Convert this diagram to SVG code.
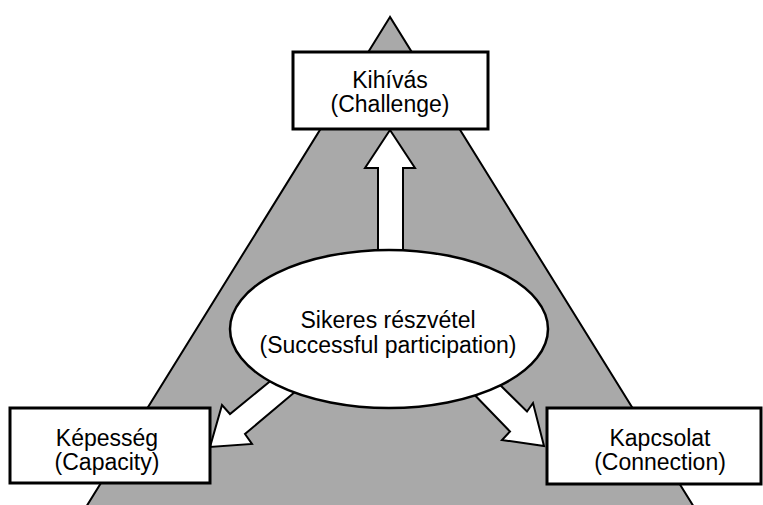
<svg xmlns="http://www.w3.org/2000/svg" width="763" height="505" viewBox="0 0 763 505">
<style>
text{font-family:"Liberation Sans",Arial,sans-serif;font-size:23px;fill:#000;text-anchor:middle}
.box{fill:#fff;stroke:#000;stroke-width:3}
.arr{fill:#fff;stroke:#000;stroke-width:2;stroke-linejoin:miter}
</style>
<rect width="763" height="505" fill="#fff"/>
<polygon points="390,17 78,520 702,520" fill="#a9a9a9" stroke="#000" stroke-width="2"/>
<g id="connectors">
<polygon class="arr" points="378,270 378,168 365,168 390,130 415,168 403,168 403,270"/>
<polygon class="arr" points="279,374 230,414 222,405 210,447 252,444 245,434 302,386"/>
<polygon class="arr" points="490,375 527,411.5 533,403 544,446 502,440 510,431.5 466,386"/>
</g>
<g id="center">
<ellipse cx="389" cy="329" rx="159" ry="79" fill="#fff" stroke="#000" stroke-width="2.5"/>
<text x="388" y="328">Sikeres részvétel</text>
<text x="388" y="353">(Successful participation)</text>
</g>
<g id="challenge">
<rect class="box" x="293" y="52" width="195" height="77"/>
<text x="390" y="88">Kihívás</text>
<text x="390" y="112">(Challenge)</text>
</g>
<g id="capacity">
<rect class="box" x="10" y="408" width="200" height="75"/>
<text x="107" y="446">Képesség</text>
<text x="107" y="470">(Capacity)</text>
</g>
<g id="connection">
<rect class="box" x="547" y="408" width="214" height="76"/>
<text x="660" y="446">Kapcsolat</text>
<text x="660" y="470">(Connection)</text>
</g>
</svg>
